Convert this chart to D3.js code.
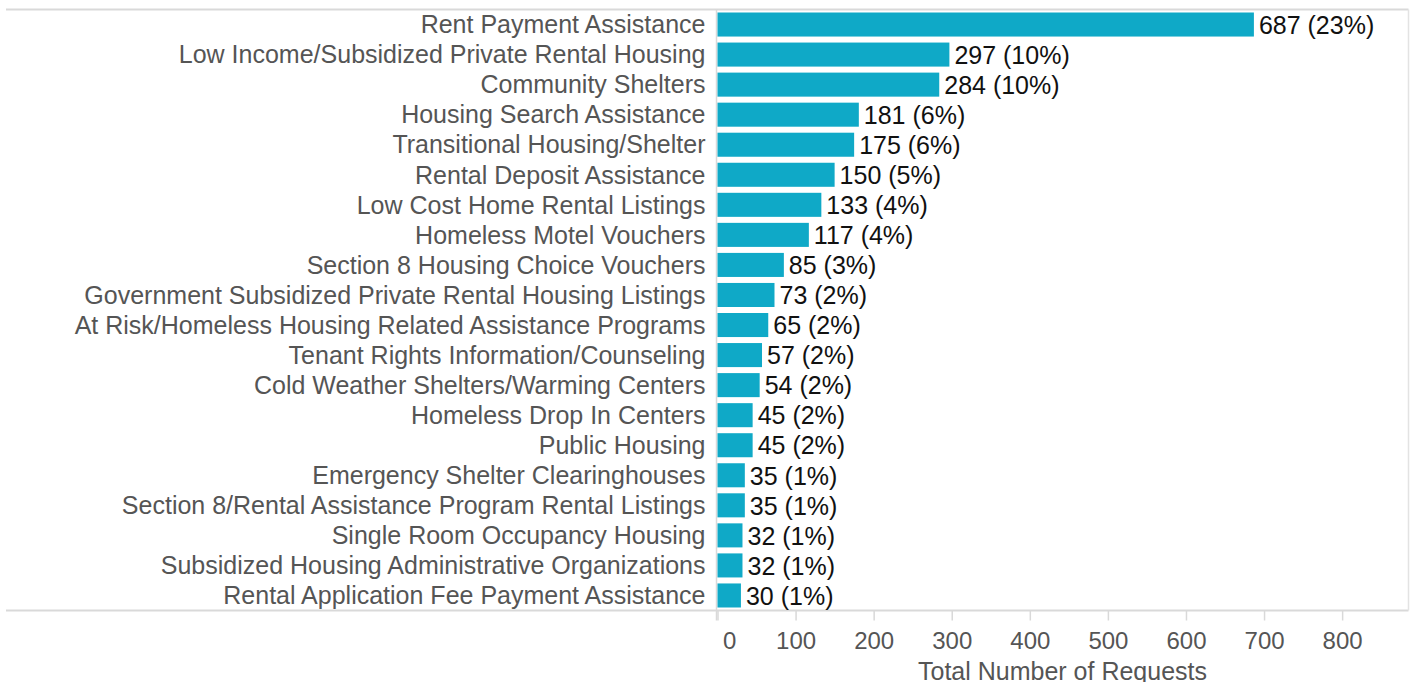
<!DOCTYPE html>
<html>
<head>
<meta charset="utf-8">
<script src="https://cdn.jsdelivr.net/npm/d3@7"></script>
<style>
  body { margin: 0; background: #fff; }
  svg { display: block; font-family: Arial, "Liberation Sans", sans-serif; }
  .cat { fill: #555; font-size: 25px; }
  .val { fill: #111; font-size: 25px; }
  .tick text { fill: #555; font-size: 24px; }
</style>
</head>
<body>
<svg></svg>
<script>
// data
let categories = [
  "Rent Payment Assistance",
  "Low Income/Subsidized Private Rental Housing",
  "Community Shelters",
  "Housing Search Assistance",
  "Transitional Housing/Shelter",
  "Rental Deposit Assistance",
  "Low Cost Home Rental Listings",
  "Homeless Motel Vouchers",
  "Section 8 Housing Choice Vouchers",
  "Government Subsidized Private Rental Housing Listings",
  "At Risk/Homeless Housing Related Assistance Programs",
  "Tenant Rights Information/Counseling",
  "Cold Weather Shelters/Warming Centers",
  "Homeless Drop In Centers",
  "Public Housing",
  "Emergency Shelter Clearinghouses",
  "Section 8/Rental Assistance Program Rental Listings",
  "Single Room Occupancy Housing",
  "Subsidized Housing Administrative Organizations",
  "Rental Application Fee Payment Assistance"
];
let requests = [687, 297, 284, 181, 175, 150, 133, 117, 85, 73, 65, 57, 54, 45, 45, 35, 35, 32, 32, 30];
let percents = ["23%", "10%", "10%", "6%", "6%", "5%", "4%", "4%", "3%", "2%", "2%", "2%", "2%", "2%", "2%", "1%", "1%", "1%", "1%", "1%"];
let xTicks = [0, 100, 200, 300, 400, 500, 600, 700, 800];
let xTitle = "Total Number of Requests";

let width = 1413, height = 682;
let plotLeft = 716.5, plotRight = 1408.5, plotTop = 9.5, plotBottom = 610.5;

let svg = d3.select("svg").attr("width", width).attr("height", height);

let x = d3.scaleLinear()
  .domain([0, 885])
  .range([plotLeft + 1, plotRight]);

let y = d3.scaleBand()
  .domain(categories)
  .range([plotTop, plotBottom])
  .paddingInner(0.2)
  .paddingOuter(0.1);

// frame
svg.append("line")
  .attr("x1", 6).attr("x2", plotRight)
  .attr("y1", plotTop).attr("y2", plotTop)
  .attr("stroke", "#d9d9d9").attr("stroke-width", 2);
svg.append("line")
  .attr("x1", 6).attr("x2", plotRight)
  .attr("y1", plotBottom).attr("y2", plotBottom)
  .attr("stroke", "#d9d9d9").attr("stroke-width", 2);
svg.append("line")
  .attr("x1", plotRight).attr("x2", plotRight)
  .attr("y1", plotTop).attr("y2", plotBottom)
  .attr("stroke", "#e3e3e3").attr("stroke-width", 1.5);
svg.append("line")
  .attr("x1", plotLeft).attr("x2", plotLeft)
  .attr("y1", plotTop).attr("y2", plotBottom + 10)
  .attr("stroke", "#d9d9d9").attr("stroke-width", 1.5);

// bars
let rows = svg.selectAll("g.row")
  .data(categories)
  .enter()
  .append("g")
  .classed("row", true);

rows.append("rect")
  .attr("x", x(0))
  .attr("y", d => y(d))
  .attr("height", y.bandwidth())
  .attr("width", (d, i) => x(requests[i]) - x(0))
  .attr("fill", "#0fa9c7");

rows.append("text")
  .classed("cat", true)
  .attr("x", plotLeft - 11)
  .attr("y", d => y(d) + y.bandwidth() / 2)
  .attr("dy", "0.35em")
  .attr("text-anchor", "end")
  .text(d => d);

rows.append("text")
  .classed("val", true)
  .attr("x", (d, i) => x(requests[i]) + 5)
  .attr("y", d => y(d) + y.bandwidth() / 2)
  .attr("dy", "0.37em")
  .text((d, i) => `${requests[i]} (${percents[i]})`);

// x axis
let xAxis = svg.append("g")
  .attr("transform", `translate(0, ${plotBottom})`)
  .call(d3.axisBottom(x).tickValues(xTicks).tickSize(10).tickPadding(11));
xAxis.select(".domain").remove();
xAxis.selectAll(".tick line").attr("stroke", "#d9d9d9").attr("stroke-width", 1.5);
// first label is kept inside the pane
xAxis.selectAll(".tick text")
  .filter(d => d === 0)
  .attr("text-anchor", "start")
  .attr("dx", 5);

svg.append("text")
  .attr("x", (plotLeft + plotRight) / 2)
  .attr("y", 680)
  .attr("text-anchor", "middle")
  .style("fill", "#555")
  .style("font-size", "25px")
  .text(xTitle);
</script>
</body>
</html>
